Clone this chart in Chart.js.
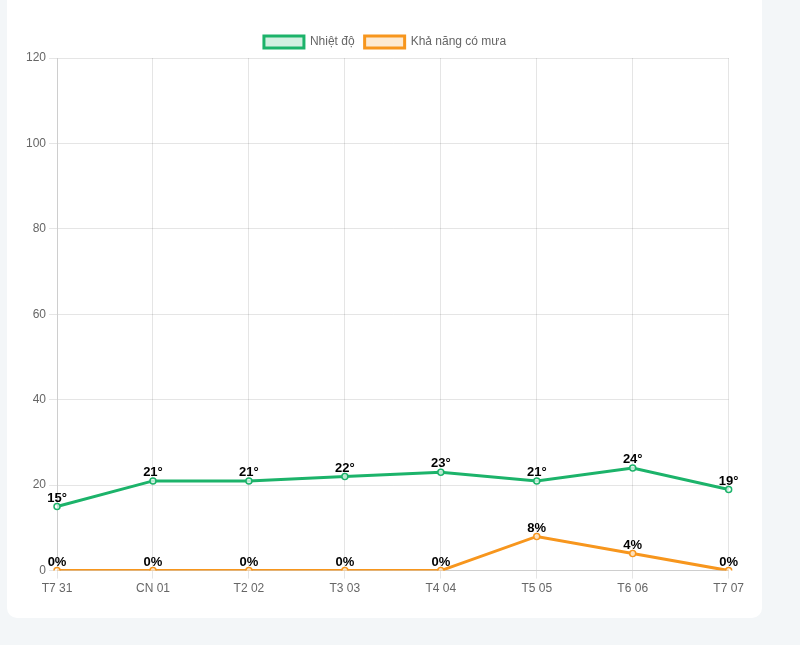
<!DOCTYPE html>
<html lang="vi">
<head>
<meta charset="utf-8">
<script src="https://cdn.jsdelivr.net/npm/chart.js@4"></script>
<style>
    html, body {
        margin: 0;
        padding: 0;
        background: #f3f6f8;
        font-family: Arial, "Liberation Sans", sans-serif;
    }
    .weather-card {
        position: absolute;
        left: 7px;
        top: -20px;
        width: 755px;
        height: 638px;
        background: #fff;
        border-radius: 10px;
    }
    .chart-wrap {
        position: absolute;
        left: 16px;
        top: 46px;
        width: 724px;
        height: 573px;
    }
</style>
</head>
<body>
<div class="weather-card">
    <div class="chart-wrap">
        <canvas id="weatherChart"></canvas>
    </div>
</div>
<script>
const labels = ['T7 31', 'CN 01', 'T2 02', 'T3 03', 'T4 04', 'T5 05', 'T6 06', 'T7 07'];
const temperature = [15, 21, 21, 22, 23, 21, 24, 19];
const rainChance = [0, 0, 0, 0, 0, 8, 4, 0];
const yTicks = [0, 20, 40, 60, 80, 100, 120];

// Draws the value above each point (° for temperature, % for rain)
const pointLabels = {
    id: 'pointLabels',
    afterDatasetsDraw(chart) {
        const ctx = chart.ctx;
        ctx.save();
        ctx.font = 'bold 13px Arial, "Liberation Sans", sans-serif';
        ctx.fillStyle = '#000';
        ctx.textAlign = 'center';
        ctx.textBaseline = 'bottom';
        chart.data.datasets.forEach((ds, i) => {
            const meta = chart.getDatasetMeta(i);
            meta.data.forEach((pt, j) => {
                ctx.fillText(ds.data[j] + ds.suffix, pt.x, pt.y - 2);
            });
        });
        ctx.restore();
    }
};

document.addEventListener('DOMContentLoaded', function() {
    Chart.defaults.font.family = 'Arial, "Liberation Sans", sans-serif';
    Chart.defaults.font.size = 12;
    Chart.defaults.color = '#666';

    new Chart(document.getElementById('weatherChart'), {
        type: 'line',
        data: {
            labels: labels,
            datasets: [
                {
                    label: 'Nhiệt độ',
                    data: temperature,
                    suffix: '°',
                    borderColor: '#1cb36a',
                    backgroundColor: 'rgba(28, 179, 106, 0.2)',
                    pointBackgroundColor: 'rgba(255, 255, 255, 0.7)',
                    borderWidth: 3,
                    pointRadius: 3,
                    pointBorderWidth: 1.5,
                    tension: 0
                },
                {
                    label: 'Khả năng có mưa',
                    data: rainChance,
                    suffix: '%',
                    borderColor: '#f7961d',
                    backgroundColor: 'rgba(247, 150, 29, 0.2)',
                    pointBackgroundColor: 'rgba(255, 255, 255, 0.7)',
                    borderWidth: 3,
                    pointRadius: 3,
                    pointBorderWidth: 1.5,
                    tension: 0
                }
            ]
        },
        options: {
            responsive: true,
            maintainAspectRatio: false,
            animation: false,
            scales: {
                y: {
                    min: yTicks[0],
                    max: yTicks[yTicks.length - 1],
                    ticks: { stepSize: yTicks[1] - yTicks[0] }
                },
                x: {}
            },
            plugins: {
                legend: {
                    position: 'top',
                    labels: { boxWidth: 40, boxHeight: 12 }
                },
                tooltip: { enabled: false }
            }
        },
        plugins: [pointLabels]
    });
});
</script>
</body>
</html>
